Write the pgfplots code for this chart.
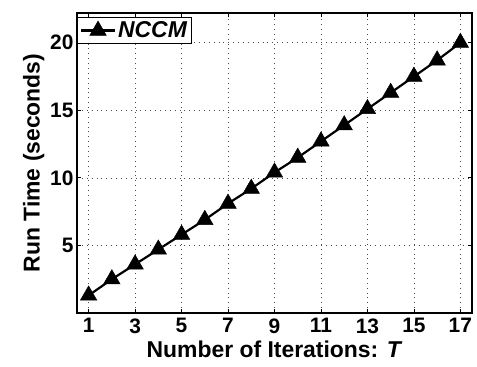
\documentclass[border=0pt]{standalone}
\usepackage{fontspec}
\setmainfont{Liberation Sans}
\usepackage{pgfplots}
\pgfplotsset{compat=1.18}
\begin{document}
\begin{tikzpicture}[x=1bp,y=1bp]
\begin{axis}[
  at={(0,0)}, anchor=south west,
  scale only axis,
  width=395bp, height=300bp,
  xmin=0.5, xmax=17.5,
  ymin=0, ymax=22.2,
  xtick={1,3,...,17},
  ytick={5,10,15,20},
  tick align=inside,
  major tick length=4bp,
  tick style={black, line width=0.8pt},
  axis line style={black, line width=1.1pt},
  grid=major,
  major grid style={black!70, dash pattern=on 0.9pt off 4pt, line width=0.7pt},
  /pgf/number format/assume math mode=true,
  tick label style={font=\fontsize{21}{23}\selectfont\bfseries},
  label style={font=\fontsize{23}{25}\selectfont\bfseries},
  xticklabel style={yshift=-2bp},
  xlabel={Number of Iterations: \textit{T}},
  ylabel={Run Time (seconds)},
  xlabel style={yshift=-1bp},
  ylabel style={yshift=-1bp},
  legend style={at={(0.0,0.987)}, anchor=north west, draw=black, line width=0.9pt,
    font=\fontsize{23}{25}\selectfont\bfseries\itshape, inner sep=2.5bp},
  legend image code/.code={%
    \draw[mark repeat=2, mark phase=2, #1] plot coordinates {(0bp,0bp) (17bp,0bp) (34bp,0bp)};},
  legend cell align=left,
]
\addplot[black, line width=2.2pt, mark=triangle*, mark size=9.5bp, mark options={fill=black, line width=0.5pt}]
  coordinates {
  (1,1.3) (2,2.5) (3,3.6) (4,4.7) (5,5.8) (6,6.9) (7,8.1) (8,9.2) (9,10.4)
  (10,11.5) (11,12.7) (12,13.9) (13,15.1) (14,16.3) (15,17.5) (16,18.7) (17,20.0)
  };
\addlegendentry{NCCM}
\end{axis}
\path[use as bounding box] (-77bp,-54bp) rectangle (400bp,313bp);
\end{tikzpicture}
\end{document}
